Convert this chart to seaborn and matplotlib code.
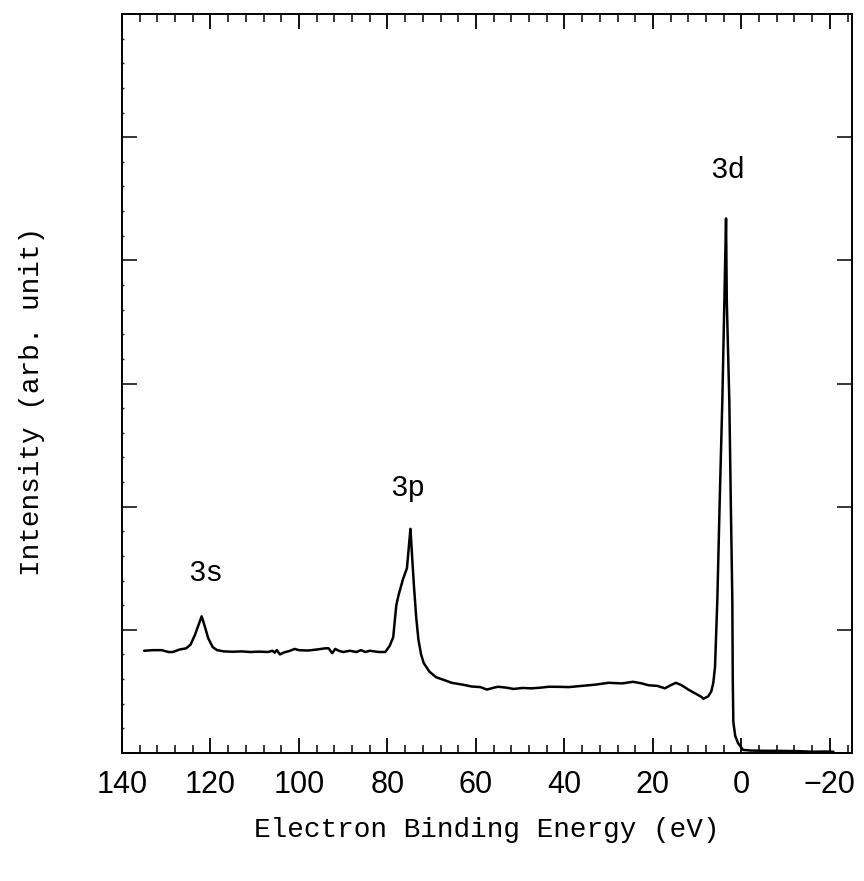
import numpy as np
import pandas as pd
import matplotlib
matplotlib.use("Agg")
import matplotlib.pyplot as plt
import seaborn as sns
from matplotlib.ticker import MultipleLocator

# Binding energy (eV) and intensity (arb. unit)
energy = [135.0, 133.0, 131.0, 129.5, 128.5, 127.0, 125.5, 124.5, 123.5, 122.5,
          122.0, 121.3, 120.5, 119.5, 118.5, 117.0, 115.0, 113.0, 111.0, 109.0,
          107.0, 106.0, 105.5, 105.0, 104.3, 103.5, 102.0, 101.0, 100.0, 98.0,
          96.0, 94.0, 93.3, 92.5, 91.8, 91.0, 90.0, 88.5, 87.0, 86.0,
          85.0, 84.0, 82.0, 80.5, 79.5, 78.7, 78.0, 77.5, 76.5, 75.6,
          75.1, 74.8, 74.4, 74.0, 73.5, 73.0, 72.4, 71.8, 70.5, 69.0,
          67.0, 65.5, 63.0, 61.0, 59.0, 57.5, 56.0, 55.0, 53.0, 51.5,
          49.5, 47.5, 45.5, 43.5, 41.0, 39.0, 36.0, 33.0, 30.0, 27.0,
          24.5, 22.5, 21.0, 19.0, 17.3, 16.0, 14.8, 13.5, 12.0, 10.5,
          9.0, 8.6, 7.5, 6.8, 6.35, 5.96, 5.44, 4.9, 4.31, 3.85,
          3.47, 3.3, 2.73, 2.4, 2.05, 1.95, 1.82, 1.4, 0.76, -0.37,
          -2.0, -5.0, -9.0, -13.0, -16.0, -19.0, -20.8]
intensity = [0.83, 0.835, 0.835, 0.82, 0.82, 0.84, 0.85, 0.88, 0.96, 1.06,
             1.11, 1.03, 0.93, 0.86, 0.835, 0.825, 0.822, 0.825, 0.82, 0.823,
             0.82, 0.83, 0.815, 0.835, 0.80, 0.815, 0.83, 0.845, 0.835, 0.832,
             0.84, 0.85, 0.85, 0.81, 0.845, 0.83, 0.82, 0.83, 0.82, 0.835,
             0.82, 0.83, 0.82, 0.82, 0.87, 0.94, 1.20, 1.28, 1.41, 1.50,
             1.70, 1.82, 1.58, 1.35, 1.10, 0.92, 0.80, 0.73, 0.66, 0.615,
             0.59, 0.57, 0.555, 0.54, 0.535, 0.515, 0.53, 0.538, 0.53, 0.52,
             0.528, 0.525, 0.53, 0.538, 0.537, 0.535, 0.545, 0.555, 0.57, 0.565,
             0.578, 0.565, 0.55, 0.545, 0.525, 0.55, 0.57, 0.55, 0.515, 0.485,
             0.455, 0.44, 0.46, 0.50, 0.57, 0.70, 1.24, 2.05, 2.86, 3.67,
             4.34, 3.67, 2.86, 2.05, 1.24, 0.60, 0.25, 0.14, 0.08, 0.025,
             0.02, 0.018, 0.017, 0.015, 0.01, 0.012, 0.01]

peak_labels = ["3s", "3p", "3d"]
peak_x = [121.2, 75.4, 3.0]
peak_y = [1.46, 2.15, 4.73]

sns.set_theme(style="white")
plt.rcParams['font.family'] = ['Liberation Mono', 'DejaVu Sans']

fig = plt.figure(figsize=(8.64, 8.81), dpi=100)
ax = fig.add_axes([122 / 864, 1 - 753 / 881, 730 / 864, 739 / 881])

df = pd.DataFrame({"energy": energy, "intensity": intensity})
sns.lineplot(data=df, x="energy", y="intensity", sort=False, estimator=None,
             color="black", lw=1.8, ax=ax)

ax.set_xlim(140, -25)
ax.set_ylim(0, 6)
ax.xaxis.set_major_locator(MultipleLocator(20))
ax.xaxis.set_minor_locator(MultipleLocator(4))
ax.yaxis.set_major_locator(MultipleLocator(1))
ax.yaxis.set_minor_locator(MultipleLocator(0.2))

for s in ax.spines.values():
    s.set_linewidth(1.4)
    s.set_color("black")

ax.tick_params(axis="x", which="major", direction="in", length=11, width=1.3,
               top=True, bottom=True, labelsize=22, pad=12,
               labelfontfamily="Liberation Sans", colors="black")
ax.tick_params(axis="x", which="minor", direction="in", length=5.5, width=1.3,
               top=True, bottom=True)
ax.tick_params(axis="y", which="major", direction="in", length=11, width=1.3,
               left=True, right=True, labelleft=False)
ax.tick_params(axis="y", which="minor", direction="in", length=1.5, width=1.0,
               left=True, right=False)

ax.set_xlabel("")
ax.set_ylabel("")

for lab, px, py in zip(peak_labels, peak_x, peak_y):
    ax.text(px, py, lab, ha="center", va="center", fontsize=21, color="black")

fig.text(487 / 864, 1 - 830 / 881, "Electron Binding Energy (eV)",
         ha="center", va="center", fontsize=20, color="black")
fig.text(32 / 864, 1 - 401 / 881, "Intensity (arb. unit)", rotation=90,
         ha="center", va="center", fontsize=20, color="black")

fig.savefig("out.png", dpi=100)
